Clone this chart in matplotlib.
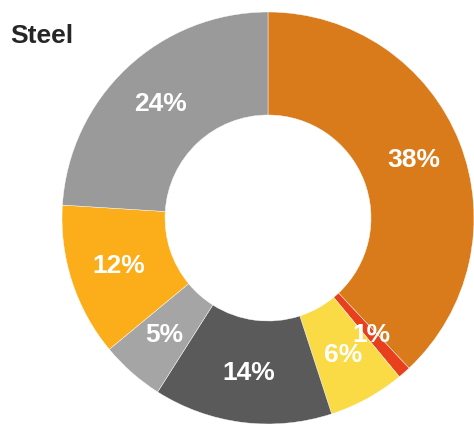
import matplotlib.pyplot as plt

plt.rcParams['font.family'] = ['Liberation Sans', 'DejaVu Sans']

# share of each segment, clockwise from the top
shares = [38, 1, 6, 14, 5, 12, 24]
labels = ['38%', '1%', '6%', '14%', '5%', '12%', '24%']
colors = ['#DA7B1B', '#E8401C', '#FADA45', '#5A5A5A', '#A5A5A5', '#FBAE19', '#9A9A9A']

fig = plt.figure(figsize=(4.74, 4.24), dpi=100)
ax = fig.add_axes([62 / 474, 0, 412 / 474, 412 / 424])

wedges, texts = ax.pie(
    shares, labels=labels, colors=colors, startangle=90, counterclock=False,
    radius=1.0, labeldistance=0.76,
    wedgeprops=dict(width=0.5, edgecolor='white', linewidth=0.3),
    textprops=dict(color='white', fontsize=19, fontweight='bold', ha='center', va='center'),
)
for w in wedges:
    w.set_clip_on(False)

ax.set_xlim(-1, 1)
ax.set_ylim(-1, 1)
ax.set_aspect('equal')
ax.axis('off')

fig.text(10 / 474, 1 - 43 / 424, 'Steel', fontsize=19, fontweight='bold',
         color='#262626', ha='left', va='baseline')

plt.savefig('out.png', dpi=100)
plt.close()
